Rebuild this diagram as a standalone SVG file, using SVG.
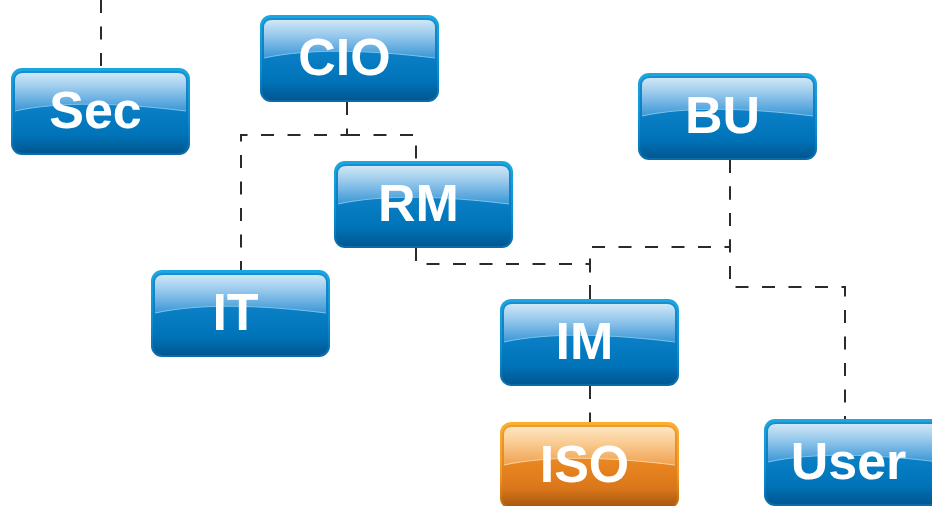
<svg xmlns="http://www.w3.org/2000/svg" xmlns:xlink="http://www.w3.org/1999/xlink" width="932" height="506" viewBox="0 0 932 506">
  <style>
    .link { fill: none; stroke: #2b2b2b; stroke-width: 2; stroke-dasharray: 13 13.5; }
    .label { font-family: "Liberation Sans", Arial, sans-serif; font-weight: bold; font-size: 52px; fill: #ffffff; text-anchor: middle; }
  </style>
  <defs>
    <!-- blue glossy button -->
    <linearGradient id="blueRim" x1="0" y1="0" x2="0" y2="1">
      <stop offset="0" stop-color="#1aa8e0"/>
      <stop offset="0.6" stop-color="#0b8fd0"/>
      <stop offset="1" stop-color="#0a6aa8"/>
    </linearGradient>
    <linearGradient id="blueBody" x1="0" y1="0" x2="0" y2="1">
      <stop offset="0" stop-color="#1a8ed0"/>
      <stop offset="0.5" stop-color="#087dc3"/>
      <stop offset="0.78" stop-color="#0073b8"/>
      <stop offset="1" stop-color="#005791"/>
    </linearGradient>
    <linearGradient id="blueGloss" x1="0" y1="0" x2="0" y2="1">
      <stop offset="0" stop-color="#cfe7f6"/>
      <stop offset="0.35" stop-color="#a0cdee"/>
      <stop offset="1" stop-color="#3a97d6"/>
    </linearGradient>
    <!-- orange glossy button -->
    <linearGradient id="orangeRim" x1="0" y1="0" x2="0" y2="1">
      <stop offset="0" stop-color="#fab22a"/>
      <stop offset="0.6" stop-color="#f19a22"/>
      <stop offset="1" stop-color="#b8650f"/>
    </linearGradient>
    <linearGradient id="orangeBody" x1="0" y1="0" x2="0" y2="1">
      <stop offset="0" stop-color="#f09a3e"/>
      <stop offset="0.5" stop-color="#e8841f"/>
      <stop offset="0.78" stop-color="#d9761a"/>
      <stop offset="1" stop-color="#a55810"/>
    </linearGradient>
    <linearGradient id="orangeGloss" x1="0" y1="0" x2="0" y2="1">
      <stop offset="0" stop-color="#fde6c2"/>
      <stop offset="0.35" stop-color="#fad09a"/>
      <stop offset="1" stop-color="#f0a24f"/>
    </linearGradient>

    <g id="box-blue">
      <rect width="179" height="87" rx="11" fill="url(#blueRim)"/>
      <rect x="2" y="3" width="175" height="82" rx="9.5" fill="url(#blueBody)"/>
      <path d="M4,13 Q4,5 12,5 H167 Q175,5 175,13 V43 C110,35 50,33 4,43 Z" fill="url(#blueGloss)"/>
      <path d="M175,43 C110,35 50,33 4,43" fill="none" stroke="#7cc2ec" stroke-width="1"/>
    </g>
    <g id="box-orange">
      <rect width="179" height="87" rx="11" fill="url(#orangeRim)"/>
      <rect x="2" y="3" width="175" height="82" rx="9.5" fill="url(#orangeBody)"/>
      <path d="M4,13 Q4,5 12,5 H167 Q175,5 175,13 V43 C110,35 50,33 4,43 Z" fill="url(#orangeGloss)"/>
      <path d="M175,43 C110,35 50,33 4,43" fill="none" stroke="#fbd3a0" stroke-width="1"/>
    </g>
  </defs>

  <rect width="932" height="506" fill="#ffffff"/>

  <!-- dashed connectors -->
  <g id="connectors">
    <path class="link" d="M101,0 V68"/>
    <path class="link" d="M347,102 V135 H241 V270"/>
    <path class="link" d="M347,135 H416 V161"/>
    <path class="link" d="M416,248 V264 H590 V299"/>
    <path class="link" d="M730,160 V247 H590 V299"/>
    <path class="link" d="M730,160 V287 H845 V419"/>
    <path class="link" d="M590,386 V422"/>
  </g>

  <g id="node-sec">
    <use xlink:href="#box-blue" x="11" y="68"/>
    <text class="label" x="95.5" y="128">Sec</text>
  </g>
  <g id="node-cio">
    <use xlink:href="#box-blue" x="260" y="15"/>
    <text class="label" x="344.5" y="75">CIO</text>
  </g>
  <g id="node-rm">
    <use xlink:href="#box-blue" x="334" y="161"/>
    <text class="label" x="418.5" y="221">RM</text>
  </g>
  <g id="node-bu">
    <use xlink:href="#box-blue" x="638" y="73"/>
    <text class="label" x="722.5" y="133">BU</text>
  </g>
  <g id="node-it">
    <use xlink:href="#box-blue" x="151" y="270"/>
    <text class="label" x="235.5" y="330">IT</text>
  </g>
  <g id="node-im">
    <use xlink:href="#box-blue" x="500" y="299"/>
    <text class="label" x="584.5" y="359">IM</text>
  </g>
  <g id="node-iso">
    <use xlink:href="#box-orange" x="500" y="422"/>
    <text class="label" x="584.5" y="482">ISO</text>
  </g>
  <g id="node-user">
    <use xlink:href="#box-blue" x="764" y="419"/>
    <text class="label" x="848.5" y="479">User</text>
  </g>
</svg>
